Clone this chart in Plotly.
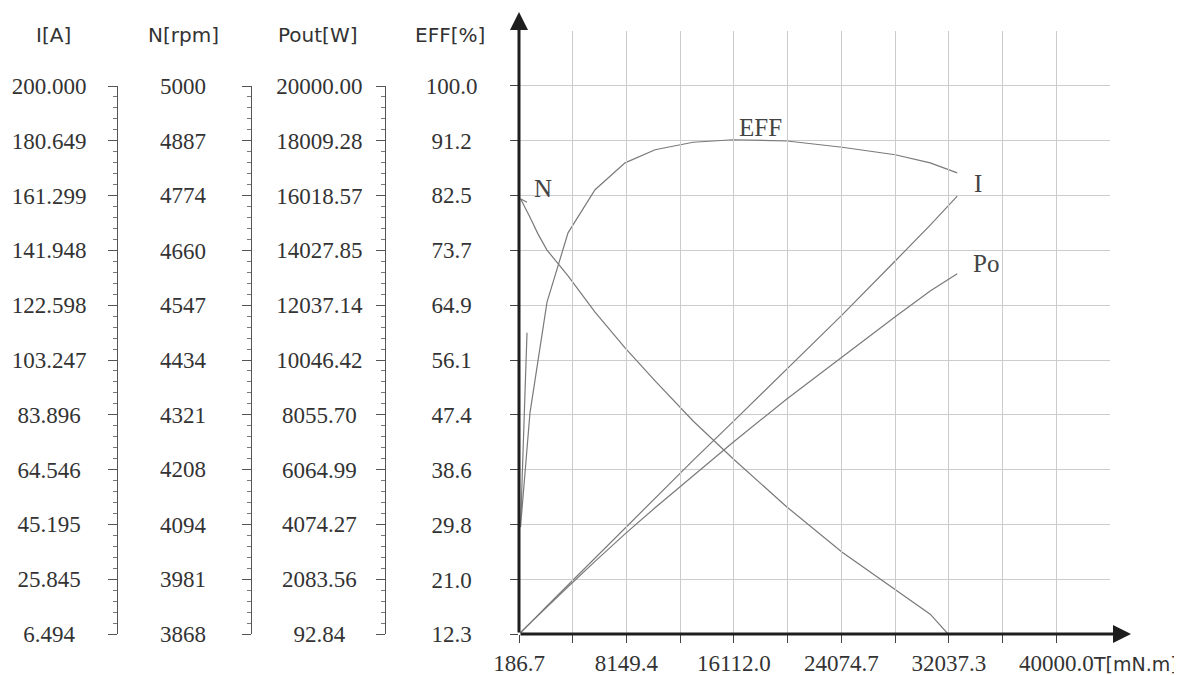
import plotly.graph_objects as go

# ---------------- data ----------------
torque = [780, 300, 1000, 1600, 2262, 3820, 5821, 8046, 10270, 13087,
          16053, 20056, 24134, 28063, 30658, 32660]                 # T [mN.m]
current = [9.3, 6.9, 10.4, 13.2, 16.4, 23.8, 33.3, 43.7, 54.4, 67.8,
           81.5, 100.0, 119.2, 138.2, 150.9, 161.1]                 # I [A]
speed = [4760, 4767, 4729, 4694, 4661, 4608, 4533, 4459, 4391, 4308,
         4230, 4130, 4037, 3959, 3909, 3847]                        # N [rpm]
pout = [380, 150, 490, 780, 1090, 1810, 2730, 3730, 4680, 5850,
        7060, 8640, 10170, 11620, 12550, 13180]                     # Pout [W]
eff = [60.5, 29.4, 47.7, 56.2, 65.4, 76.5, 83.4, 87.7, 89.8, 91.0,
       91.4, 91.2, 90.2, 89.0, 87.7, 86.1]                          # EFF [%]

x_labels = ["186.7", "8149.4", "16112.0", "24074.7", "32037.3", "40000.0"]
i_labels = ["200.000", "180.649", "161.299", "141.948", "122.598", "103.247",
            "83.896", "64.546", "45.195", "25.845", "6.494"]
n_labels = ["5000", "4887", "4774", "4660", "4547", "4434", "4321", "4208",
            "4094", "3981", "3868"]
p_labels = ["20000.00", "18009.28", "16018.57", "14027.85", "12037.14",
            "10046.42", "8055.70", "6064.99", "4074.27", "2083.56", "92.84"]
eff_labels = ["100.0", "91.2", "82.5", "73.7", "64.9", "56.1", "47.4",
              "38.6", "29.8", "21.0", "12.3"]

axis_titles = ["I[A]", "N[rpm]", "Pout[W]", "EFF[%]"]

# ---------------- geometry (screen pixels, page has an 8px body margin) ----
OFF = 8
W, H = 1182 - OFF, 675 - OFF
SX0, SX1 = 519, 1110          # plot area left/right on screen
SY0, SY1 = 31, 634            # plot area top/bottom on screen
ML, MR = 0, W - (SX1 - OFF)
MT, MB = SY0 - OFF, H - (SY1 - OFF)
PW, PH = W - ML - MR, H - MT - MB


def px(sx):
    return (sx - OFF - ML) / PW


def py(sy):
    return (SY1 - sy) / PH


NUM_FONT = "Liberation Serif"
SANS_FONT = "DejaVu Sans"
TXT = "#333333"
CURVE = "#7a7a7a"
GRID = "#cccccc"
AXIS = "#1e1e1e"


def center_pad(labels):
    def w(s):
        return sum(0.5 if c.isdigit() else 0.25 for c in s)
    m = max(w(s) for s in labels)
    out = []
    for s in labels:
        n = int(round((m - w(s)) / 2 / 0.25))
        out.append(s + "\u2007" * (n // 2) + "\u2008" * (n % 2))
    return out


x_vals = [float(s) for s in x_labels]
x_step = (x_vals[1] - x_vals[0]) / 2
x_ticks, x_text = [], []
for i, v in enumerate(x_vals):
    x_ticks.append(v)
    x_text.append(x_labels[i])
    if i < len(x_vals) - 1:
        x_ticks.append(v + x_step)
        x_text.append("")

eff_vals = [float(s) for s in eff_labels]
eff_step = eff_vals[0] - eff_vals[1]

fig = go.Figure()
line = dict(color=CURVE, width=1.2)
fig.add_trace(go.Scatter(x=torque, y=eff, mode="lines", line=line, name="EFF",
                         xaxis="x", yaxis="y", hoverinfo="skip"))
fig.add_trace(go.Scatter(x=torque, y=current, mode="lines", line=line, name="I",
                         xaxis="x", yaxis="y2", hoverinfo="skip"))
fig.add_trace(go.Scatter(x=torque, y=speed, mode="lines", line=line, name="N",
                         xaxis="x", yaxis="y3", hoverinfo="skip"))
fig.add_trace(go.Scatter(x=torque, y=pout, mode="lines", line=line, name="Pout",
                         xaxis="x", yaxis="y4", hoverinfo="skip"))

top_dom = py(86)


def side_axis(labels, sx, standoff):
    vals = [float(s) for s in labels]
    lo, hi = min(vals), max(vals)
    return dict(
        domain=[0, top_dom], range=[lo, hi], anchor="free", position=px(sx),
        side="left", showgrid=False, zeroline=False, automargin=False,
        showline=True, linecolor="#555555", linewidth=1,
        tickmode="array", tickvals=vals, ticktext=center_pad(labels),
        ticks="outside", ticklen=9, tickwidth=1, tickcolor="#555555",
        ticklabelstandoff=standoff,
        tickfont=dict(family=NUM_FONT, size=23, color=TXT),
        minor=dict(ticks="outside", ticklen=4, tickwidth=1,
                   tickcolor="#777777", tickmode="linear",
                   tick0=lo, dtick=(hi - lo) / 50),
        fixedrange=True,
    )


fig.update_layout(
    width=W, height=H,
    margin=dict(l=ML, r=MR, t=MT, b=MB, pad=0),
    paper_bgcolor="white", plot_bgcolor="rgba(0,0,0,0)",
    showlegend=False,
    xaxis=dict(
        domain=[px(SX0), 1.0],
        range=[x_vals[0], x_vals[-1] + x_step - 1],
        tickmode="array", tickvals=x_ticks, ticktext=x_text,
        showgrid=True, gridcolor=GRID, gridwidth=1, automargin=False,
        zeroline=False, showline=False,
        ticks="outside", ticklen=8, tickwidth=1, tickcolor="#444444",
        tickfont=dict(family=NUM_FONT, size=23, color=TXT),
        fixedrange=True,
    ),
    yaxis=dict(
        domain=[0, 1],
        range=[eff_vals[-1], eff_vals[0] + eff_step],
        tickmode="array", tickvals=eff_vals, ticktext=center_pad(eff_labels),
        showgrid=True, gridcolor=GRID, gridwidth=1, automargin=False,
        zeroline=False, showline=False,
        ticks="outside", ticklen=8, tickwidth=1, tickcolor="#444444",
        ticklabelstandoff=28,
        tickfont=dict(family=NUM_FONT, size=23, color=TXT),
        fixedrange=True,
    ),
    yaxis2=side_axis(i_labels, 117, 17),
    yaxis3=side_axis(n_labels, 250.5, 31),
    yaxis4=side_axis(p_labels, 385, 9),
)

annotations = []
# axis arrows
annotations.append(dict(x=px(SX0), y=py(12), xref="paper", yref="paper", text="",
                        showarrow=True, ax=0, ay=SY1 - 12, axref="pixel",
                        ayref="pixel", arrowhead=2, arrowsize=1.2, arrowwidth=3,
                        arrowcolor=AXIS))
annotations.append(dict(x=px(1131), y=0, xref="paper", yref="paper", text="",
                        showarrow=True, ax=-(1131 - SX0), ay=0, axref="pixel",
                        ayref="pixel", arrowhead=2, arrowsize=1.2, arrowwidth=3,
                        arrowcolor=AXIS))
# axis titles
for t, cx in zip(axis_titles, [53, 183, 317, 450]):
    annotations.append(dict(x=px(cx), y=py(35), xref="paper", yref="paper",
                            text=t, showarrow=False, xanchor="center",
                            yanchor="middle",
                            font=dict(family=SANS_FONT, size=20, color=TXT)))
annotations.append(dict(x=px(1091), y=py(664), xref="paper", yref="paper",
                        text="T[mN.m]", showarrow=False, xanchor="left",
                        yanchor="middle",
                        font=dict(family=SANS_FONT, size=19, color=TXT)))
# curve labels
curve_font = dict(family=NUM_FONT, size=25, color="#444444")
annotations.append(dict(x=18054, y=93.3, xref="x", yref="y", text="EFF",
                        showarrow=False, font=curve_font))
annotations.append(dict(x=1966, y=4789, xref="x", yref="y3", text="N",
                        showarrow=False, font=curve_font))
annotations.append(dict(x=34217, y=165.4, xref="x", yref="y2", text="I",
                        showarrow=False, font=curve_font))
annotations.append(dict(x=34810, y=13570, xref="x", yref="y4", text="Po",
                        showarrow=False, font=curve_font))
fig.update_layout(annotations=annotations)

fig.write_html("out.html", config={"displayModeBar": False, "staticPlot": True})
